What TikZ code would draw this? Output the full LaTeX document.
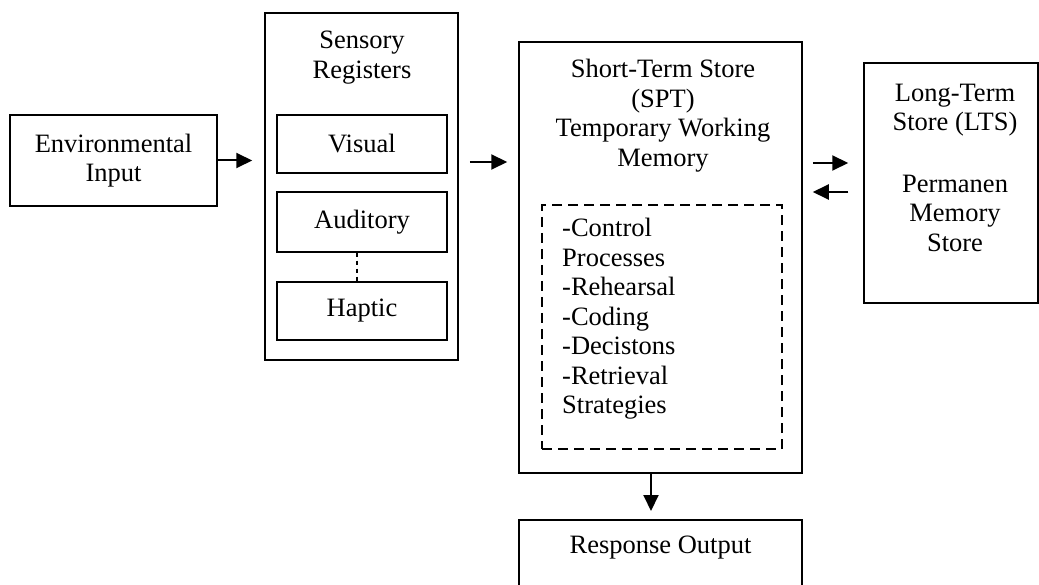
\documentclass[tikz,border=0pt]{standalone}
\usepackage{fontspec}
\setmainfont{Liberation Serif}
\usetikzlibrary{arrows.meta}

\begin{document}
\begin{tikzpicture}[x=1pt,y=1pt,yscale=-1,xscale=1]
\tikzset{
  blk/.style={draw,line width=1.5pt,inner sep=0pt},
  txt/.style={align=center,inner sep=0pt,font=\fontsize{26.5}{29.5}\selectfont},
  arr/.style={line width=2pt,-{Triangle[length=16pt,width=15pt]}}
}
\useasboundingbox (0,0) rectangle (1039,585);

%Shape: Rectangle [env]
\node [blk,txt,minimum width=207,minimum height=91] (env) at (113.5,160.5) {Environmental\\Input};

%Shape: Rectangle [sensory registers]
\node [blk,minimum width=193,minimum height=347] (sens) at (361.5,186.5) {};
% Text Node
\node [txt] (senstitle) at (362,57.5) {Sensory\\Registers};
\node [blk,txt,minimum width=170,minimum height=58] (vis) at (362,144) {Visual};
\node [blk,txt,minimum width=170,minimum height=60] (aud) at (362,222) {Auditory};
\node [blk,txt,minimum width=170,minimum height=58] (hap) at (362,311) {Haptic};
%Straight Lines [dotted]
\draw [line width=1.2pt,dash pattern=on 4pt off 4pt] ([xshift=-5pt]aud.south) -- ([xshift=-5pt]hap.north);

%Shape: Rectangle [short-term store]
\node [blk,minimum width=283,minimum height=431] (sts) at (660.5,257.5) {};
% Text Node
\node [txt] (ststitle) at (663,115.5) {Short-Term Store\\(SPT)\\Temporary Working\\Memory};
%Shape: Rectangle [dashed]
\node [draw,line width=2.2pt,dash pattern=on 10pt off 6pt,minimum width=240,minimum height=244] (ctrl) at (662,327) {};
% Text Node
\node [txt,align=left,anchor=west] (ctrltext) at (562,319) {-Control\\Processes\\-Rehearsal\\-Coding\\-Decistons\\-Retrieval\\Strategies};

%Shape: Rectangle [long-term store]
\node [blk,minimum width=174,minimum height=240] (lts) at (951,183) {};
% Text Node
\node [txt] (ltstext) at (955,167.5) {Long-Term\\Store (LTS)\\[32pt]Permanen\\Memory\\Store};

%Shape: Rectangle [response]
\node [blk,txt,minimum width=283,minimum height=80,anchor=north] (resp) at (660.5,519) {Response Output\\\mbox{}};

%Straight Lines [arrows]
\draw [arr,shorten >=12pt] (env.east) -- (env.east -| sens.west);
\coordinate (sr) at ([yshift=-24.5pt]sens.east);
\draw [arr,shorten <=11pt,shorten >=11pt] (sr) -- (sr -| sts.west);
\coordinate (lr) at ([yshift=-20pt]lts.west);
\coordinate (ll) at ([yshift=9pt]lts.west);
\draw [arr,shorten <=10pt,shorten >=15pt] (lr -| sts.east) -- (lr);
\draw [arr,shorten <=15pt,shorten >=10pt] (ll) -- (ll -| sts.east);
\draw [arr,shorten >=8pt] ([xshift=-9.5pt]sts.south) -- ([xshift=-9.5pt]resp.north);
\end{tikzpicture}
\end{document}
